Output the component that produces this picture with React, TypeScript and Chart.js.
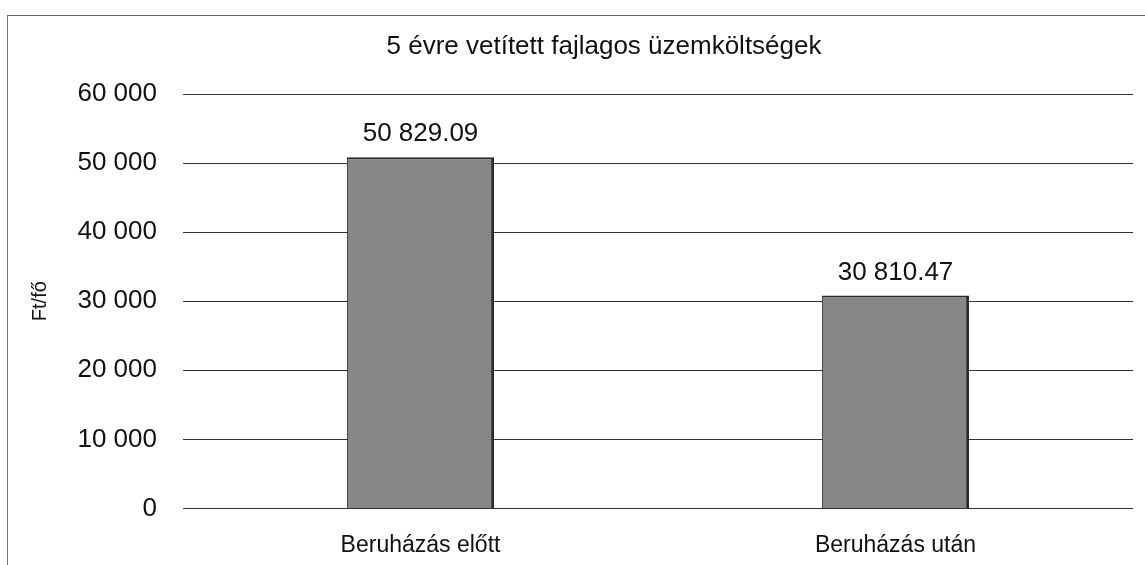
import React, { useEffect, useRef } from "react";
import { Chart, registerables } from "chart.js";

Chart.register(...registerables);

const categories = ["Beruházás előtt", "Beruházás után"];
const values = [50829.09, 30810.47];
const valueLabels = ["50 829.09", "30 810.47"];
const chartTitle = "5 évre vetített fajlagos üzemköltségek";
const yAxisTitle = "Ft/fő";

const FONT = "'Liberation Sans', Arial, sans-serif";

const fmtThousands = (v: number) =>
  String(Math.round(v)).replace(/\B(?=(\d{3})+(?!\d))/g, " ");

const labelsAndTitlePlugin = {
  id: "labelsAndTitle",
  afterDatasetsDraw(chart: any) {
    const ctx = chart.ctx;
    const meta = chart.getDatasetMeta(0);
    ctx.save();
    ctx.font = `26px ${FONT}`;
    ctx.fillStyle = "#111";
    ctx.textAlign = "center";
    ctx.textBaseline = "alphabetic";
    meta.data.forEach((bar: any, i: number) => {
      ctx.fillText(valueLabels[i], bar.x, bar.y - 16);
    });
    ctx.textBaseline = "middle";
    ctx.fillText(chartTitle, 604, 47);
    ctx.restore();
  },
};

export default function App() {
  const ref = useRef<HTMLCanvasElement | null>(null);
  useEffect(() => {
    if (!ref.current) return;
    const chart = new Chart(ref.current, {
      type: "bar",
      data: {
        labels: categories,
        datasets: [
          {
            data: values,
            backgroundColor: "#878787",
            borderColor: "#2a2a2a",
            borderWidth: { top: 2, right: 3, left: 1, bottom: 0 } as any,
            borderSkipped: false,
            barPercentage: 0.62,
            categoryPercentage: 0.5,
          },
        ],
      },
      plugins: [labelsAndTitlePlugin],
      options: {
        animation: false,
        responsive: false,
        maintainAspectRatio: false,
        layout: { padding: { left: 20, right: 12, top: 94, bottom: -17 } },
        plugins: {
          legend: { display: false },
          tooltip: { enabled: false },
          title: { display: false },
        },
        scales: {
          x: {
            grid: { display: false, drawTicks: false },
            border: { display: false },
            ticks: {
              color: "#111",
              font: { family: FONT, size: 23 },
              padding: 23,
            },
          },
          y: {
            min: 0,
            max: 60000,
            afterFit: (scale: any) => {
              scale.width = 163;
            },
            grid: { color: "#333", lineWidth: 1, drawTicks: false },
            border: { display: false },
            ticks: {
              stepSize: 10000,
              color: "#111",
              font: { family: FONT, size: 26 },
              padding: 26,
              callback: (v: any) => fmtThousands(Number(v)),
            },
            title: {
              display: true,
              text: yAxisTitle,
              color: "#111",
              font: { family: FONT, size: 20 },
              padding: { top: 8, bottom: 0 },
            },
          },
        },
      },
    });
    return () => chart.destroy();
  }, []);
  return (
    <div
      style={{
        position: "fixed",
        left: 0,
        top: 0,
        width: 1145,
        height: 565,
        background: "#fff",
      }}
    >
      <canvas
        ref={ref}
        width={1145}
        height={565}
        style={{ position: "absolute", left: 0, top: 0 }}
      />
      <div
        style={{
          position: "absolute",
          left: 7,
          top: 15,
          width: 1145,
          height: 560,
          borderTop: "1px solid #666",
          borderLeft: "1px solid #777",
          pointerEvents: "none",
        }}
      />
    </div>
  );
}
